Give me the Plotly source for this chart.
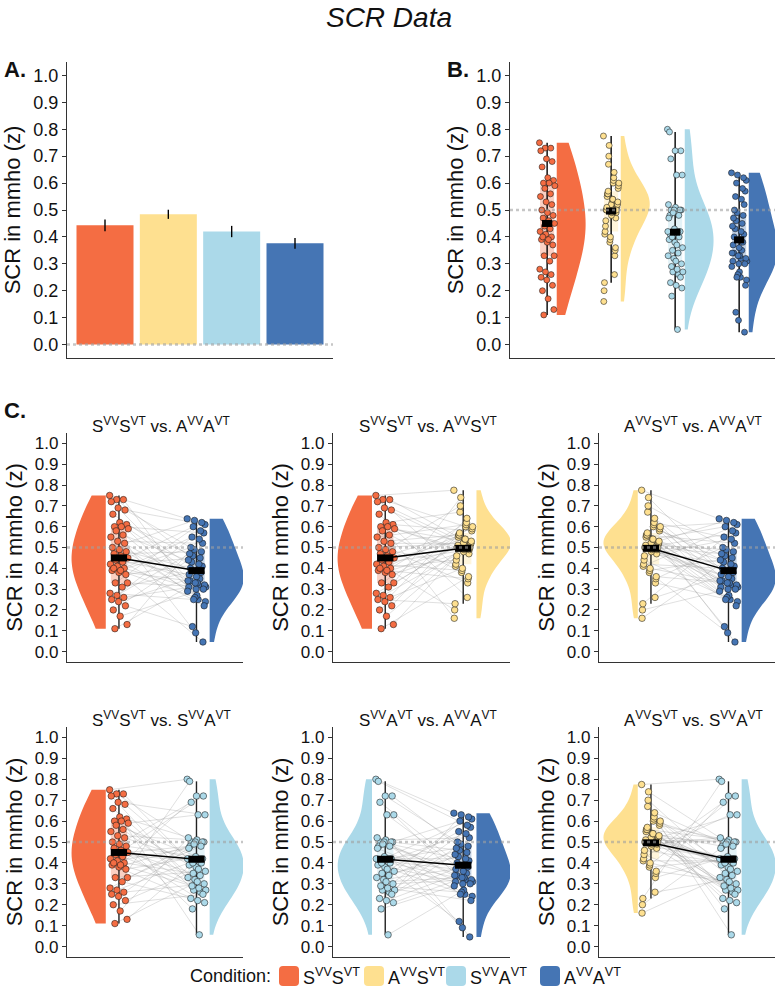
import numpy as np
import plotly.graph_objects as go

W, H = 778, 999
FONT = "Liberation Sans, Arial, sans-serif"

# ---------------- data ----------------
CONDITIONS = ["S<sup>VV</sup>S<sup>VT</sup>", "A<sup>VV</sup>S<sup>VT</sup>",
              "S<sup>VV</sup>A<sup>VT</sup>", "A<sup>VV</sup>A<sup>VT</sup>"]
COLORS = ["#F46D43", "#FEE090", "#ABD9E9", "#4575B4"]

# Panel A: condition means and standard errors
BAR_MEANS = [0.443, 0.484, 0.420, 0.376]
BAR_SE = [0.022, 0.017, 0.021, 0.020]

# per-subject SCR values (z), same subject order in every list
SVV_SVT = [0.75, 0.73, 0.73, 0.72, 0.69, 0.68, 0.66, 0.62, 0.61, 0.60, 0.60, 0.59,
           0.58, 0.56, 0.55, 0.53, 0.52, 0.50, 0.49, 0.48, 0.47, 0.46, 0.45, 0.44,
           0.43, 0.42, 0.41, 0.40, 0.39, 0.38, 0.37, 0.40, 0.39, 0.33, 0.33, 0.31,
           0.28, 0.27, 0.26, 0.25, 0.24, 0.22, 0.20, 0.17, 0.13, 0.11]
AVV_SVT = [0.775, 0.60, 0.55, 0.51, 0.51, 0.41, 0.26, 0.67, 0.58, 0.53, 0.50, 0.47,
           0.38, 0.16, 0.61, 0.56, 0.52, 0.52, 0.42, 0.33, 0.70, 0.59, 0.54, 0.50,
           0.49, 0.39, 0.20, 0.62, 0.56, 0.52, 0.48, 0.44, 0.35, 0.74, 0.60, 0.54,
           0.51, 0.50, 0.40, 0.23, 0.64, 0.57, 0.53, 0.49, 0.46, 0.36]
SVV_AVT = [0.80, 0.50, 0.38, 0.26, 0.63, 0.41, 0.32, 0.056, 0.50, 0.39, 0.27, 0.63,
           0.42, 0.33, 0.18, 0.51, 0.40, 0.27, 0.69, 0.43, 0.34, 0.21, 0.48, 0.41,
           0.28, 0.72, 0.47, 0.35, 0.22, 0.50, 0.42, 0.29, 0.72, 0.48, 0.36, 0.23,
           0.50, 0.42, 0.30, 0.79, 0.49, 0.37, 0.25, 0.52, 0.40, 0.31]
AVV_AVT = [0.638, 0.41, 0.25, 0.49, 0.34, 0.61, 0.38, 0.27, 0.46, 0.31, 0.57, 0.35,
           0.09, 0.43, 0.29, 0.52, 0.32, 0.63, 0.40, 0.24, 0.48, 0.33, 0.60, 0.37,
           0.22, 0.45, 0.30, 0.55, 0.34, 0.046, 0.42, 0.26, 0.50, 0.31, 0.62, 0.39,
           0.25, 0.47, 0.32, 0.58, 0.36, 0.12, 0.44, 0.30, 0.54, 0.33]
DATA = [SVV_SVT, AVV_SVT, SVV_AVT, AVV_AVT]

Y_TICKS = [0.0, 0.1, 0.2, 0.3, 0.4, 0.5, 0.6, 0.7, 0.8, 0.9, 1.0]
PAIRS = [(0, 3), (0, 1), (1, 3), (0, 2), (2, 3), (1, 2)]
Y_TITLE = "SCR in mmho (z)"


# ---------------- helpers ----------------
def px_x(p):
    return p / W


def px_y(p):
    return 1 - p / H


def pale(hexc, a=0.32):
    r, g, b = int(hexc[1:3], 16), int(hexc[3:5], 16), int(hexc[5:7], 16)
    r, g, b = [int(round(c * a + 255 * (1 - a))) for c in (r, g, b)]
    return f"rgb({r},{g},{b})"


def kde_bw(v):
    v = np.asarray(v, float)
    q1, q3 = np.percentile(v, [25, 75])
    s = min(v.std(ddof=1), (q3 - q1) / 1.34)
    return 1.5 * 0.9 * s * len(v) ** (-0.2)


def whiskers(v):
    v = np.asarray(v, float)
    q1, q3 = np.percentile(v, [25, 75])
    iqr = q3 - q1
    lo = v[v >= q1 - 1.5 * iqr].min()
    hi = v[v <= q3 + 1.5 * iqr].max()
    return lo, hi


JIT_MULT = [17, 29, 11, 37]


def jitter(n, c, spread):
    m = JIT_MULT[c]
    return np.array([(((i * m) % 47) / 46 - 0.5) * spread for i in range(n)])


traces = []
shapes = []
annotations = []
_vcount = [0]


def add_violin(c, pos, side, xa, ya, vio_off, vio_half):
    vals = np.asarray(DATA[c], float)
    col = COLORS[c]
    sgn = 1 if side == "positive" else -1
    _vcount[0] += 1
    traces.append(go.Violin(
        y=vals, x0=pos + sgn * vio_off, side=side, width=2 * vio_half,
        fillcolor=col, line=dict(width=0, color=col), points=False,
        spanmode="hard", bandwidth=kde_bw(vals), scalemode="width",
        scalegroup=f"sg{_vcount[0]}", name=f"v{_vcount[0]}",
        hoverinfo="skip", showlegend=False, xaxis=xa, yaxis=ya, opacity=1))


def add_core(c, pos, xa, ya, box_w, jit_spread, msize, wcolor, jit=None):
    vals = np.asarray(DATA[c], float)
    col = COLORS[c]
    lo, hi = whiskers(vals)
    traces.append(go.Scatter(x=[pos, pos], y=[lo, hi], mode="lines",
                             line=dict(color=wcolor, width=1.4), hoverinfo="skip",
                             showlegend=False, xaxis=xa, yaxis=ya))
    traces.append(go.Box(y=vals, x0=pos, width=box_w, fillcolor=pale(col),
                         line=dict(width=0, color=pale(col)), boxpoints=False,
                         whiskerwidth=0, hoverinfo="skip", showlegend=False,
                         xaxis=xa, yaxis=ya))
    if jit is None:
        jit = jitter(len(vals), c, jit_spread)
    traces.append(go.Scatter(x=pos + jit, y=vals, mode="markers",
                             marker=dict(size=msize, color=col,
                                         line=dict(color="rgba(20,20,20,0.9)", width=0.6)),
                             hoverinfo="skip", showlegend=False, xaxis=xa, yaxis=ya))
    return vals.mean()


def mean_bar(pos, m, w, xa, ya):
    traces.append(go.Scatter(x=[pos - w / 2, pos + w / 2], y=[m, m], mode="lines",
                             line=dict(color="black", width=7), hoverinfo="skip",
                             showlegend=False, xaxis=xa, yaxis=ya))


def dotted(xa, ya, yv):
    xref = "x domain" if xa == "x" else f"{xa} domain"
    shapes.append(dict(type="line", xref=xref, x0=0, x1=1, yref=ya, y0=yv, y1=yv,
                       line=dict(color="rgba(160,160,160,0.6)", width=2.5, dash="dot"),
                       layer="above"))


# ---------------- Panel A ----------------
traces.append(go.Bar(x=[1, 2, 3, 4], y=BAR_MEANS, width=0.9, marker=dict(color=COLORS, line=dict(width=0)),
                     error_y=dict(type="data", array=BAR_SE, color="black", thickness=1.4, width=0),
                     hoverinfo="skip", showlegend=False, xaxis="x", yaxis="y"))
dotted("x", "y", 0)

# ---------------- Panel B ----------------
for c in range(4):
    add_violin(c, c + 1, "positive", "x2", "y2", 0.15, 0.45)
for c in range(4):
    pos = c + 1
    m = add_core(c, pos, "x2", "y2", 0.22, 0.24, 6, "black")
    mean_bar(pos, m, 0.16, "x2", "y2")
dotted("x2", "y2", 0.5)

# ---------------- Panel C ----------------
for k, (a, b) in enumerate(PAIRS):
    xa, ya = f"x{k + 3}", f"y{k + 3}"
    add_violin(a, 1, "negative", xa, ya, 0.17, 0.44)
    add_violin(b, 2, "positive", xa, ya, 0.17, 0.44)
    va, vb = np.asarray(DATA[a]), np.asarray(DATA[b])
    ja, jb = jitter(len(va), a, 0.24), jitter(len(vb), b, 0.24)
    lx, ly = [], []
    for i in range(len(va)):
        lx += [1 + ja[i], 2 + jb[i], None]
        ly += [va[i], vb[i], None]
    traces.append(go.Scatter(x=lx, y=ly, mode="lines",
                             line=dict(color="rgba(140,140,140,0.45)", width=0.6),
                             hoverinfo="skip", showlegend=False, xaxis=xa, yaxis=ya))
    ma = add_core(a, 1, xa, ya, 0.21, 0.24, 6.5, "#222", ja)
    mb = add_core(b, 2, xa, ya, 0.21, 0.24, 6.5, "#222", jb)
    traces.append(go.Scatter(x=[1, 2], y=[ma, mb], mode="lines",
                             line=dict(color="black", width=1.5), hoverinfo="skip",
                             showlegend=False, xaxis=xa, yaxis=ya))
    mean_bar(1, ma, 0.21, xa, ya)
    mean_bar(2, mb, 0.21, xa, ya)
    dotted(xa, ya, 0.5)

fig = go.Figure(data=traces)

# ---------------- axes ----------------
AX_COLOR = "#333333"


def yaxis_cfg(top, bottom, xa, tick_size, title_size=22, standoff=6):
    return dict(domain=[px_y(bottom), px_y(top)], anchor=xa, range=[-0.05, 1.05],
                tickvals=Y_TICKS, ticktext=[f"{v:.1f}" for v in Y_TICKS],
                showline=True, linecolor=AX_COLOR, linewidth=1.3, ticks="outside",
                ticklen=4, tickwidth=1.3, tickcolor=AX_COLOR, showgrid=False,
                zeroline=False, tickfont=dict(size=tick_size, color="#111", family=FONT),
                title=dict(text=Y_TITLE, font=dict(size=title_size, color="#111", family=FONT),
                           standoff=standoff))


def xaxis_cfg(left, right, ya, rng):
    return dict(domain=[px_x(left), px_x(right)], anchor=ya, range=rng, type="linear",
                showline=True, linecolor=AX_COLOR, linewidth=1.3, ticks="",
                showticklabels=False, showgrid=False, zeroline=False)


layout = dict(
    width=W, height=H, margin=dict(l=0, r=0, t=0, b=0),
    plot_bgcolor="white", paper_bgcolor="white", showlegend=False,
    violinmode="overlay", boxmode="overlay",
    font=dict(family=FONT, color="#111"),
    title=dict(text="<i>SCR Data</i>", x=0.5, xanchor="center", y=px_y(17), yanchor="middle",
               font=dict(size=28, family=FONT, color="#111")),
)
layout["xaxis"] = xaxis_cfg(67, 333, "y", [0.4, 4.6])
layout["yaxis"] = yaxis_cfg(62, 358, "x", 18)
layout["xaxis2"] = xaxis_cfg(510, 775, "y2", [0.42, 4.56])
layout["yaxis2"] = yaxis_cfg(62, 358, "x2", 18)

COLS = [(67, 243), (333, 510), (599, 775)]
ROWS = [(433, 662), (727, 957)]
for k, (a, b) in enumerate(PAIRS):
    r, cidx = divmod(k, 3)
    n = k + 3
    layout[f"xaxis{n}"] = xaxis_cfg(COLS[cidx][0], COLS[cidx][1], f"y{n}", [0.33, 2.6])
    layout[f"yaxis{n}"] = yaxis_cfg(ROWS[r][0], ROWS[r][1], f"x{n}", 17)
    cx = (COLS[cidx][0] + COLS[cidx][1]) / 2 + 6
    annotations.append(dict(text=f"{CONDITIONS[a]} vs. {CONDITIONS[b]}", x=px_x(cx),
                            y=px_y(ROWS[r][0] + 5), xref="paper", yref="paper",
                            xanchor="center", yanchor="bottom", showarrow=False,
                            font=dict(size=17, family=FONT, color="#111")))

# panel letters
for txt, x, y in [("A.", 2, 70), ("B.", 445, 70), ("C.", 2, 410)]:
    annotations.append(dict(text=f"<b>{txt}</b>", x=px_x(x), y=px_y(y), xref="paper", yref="paper",
                            xanchor="left", yanchor="middle", showarrow=False,
                            font=dict(size=22, family=FONT, color="#111")))

# legend (custom, bottom)
LEG_Y = 976
annotations.append(dict(text="Condition:", x=px_x(188), y=px_y(LEG_Y), xref="paper", yref="paper",
                        xanchor="left", yanchor="middle", showarrow=False,
                        font=dict(size=18, family=FONT, color="#111")))
LEG_BOX_X = [279, 364, 446, 540]
for c in range(4):
    x0, x1 = LEG_BOX_X[c], LEG_BOX_X[c] + 20
    y0, y1 = LEG_Y - 10, LEG_Y + 10
    rr = 4
    X0, X1 = px_x(x0), px_x(x1)
    Y0, Y1 = px_y(y1), px_y(y0)
    rx, ry = rr / W, rr / H
    path = (f"M{X0 + rx},{Y0} L{X1 - rx},{Y0} Q{X1},{Y0} {X1},{Y0 + ry} "
            f"L{X1},{Y1 - ry} Q{X1},{Y1} {X1 - rx},{Y1} L{X0 + rx},{Y1} "
            f"Q{X0},{Y1} {X0},{Y1 - ry} L{X0},{Y0 + ry} Q{X0},{Y0} {X0 + rx},{Y0} Z")
    shapes.append(dict(type="path", path=path, xref="paper", yref="paper",
                       fillcolor=COLORS[c], line=dict(width=0)))
    annotations.append(dict(text=CONDITIONS[c], x=px_x(x1 + 2), y=px_y(LEG_Y), xref="paper",
                            yref="paper", xanchor="left", yanchor="middle", showarrow=False,
                            font=dict(size=18, family=FONT, color="#111")))

layout["shapes"] = shapes
layout["annotations"] = annotations
fig.update_layout(**layout)
fig.write_html("out.html", config={"displayModeBar": False},
               post_script="document.body.style.margin='0';document.body.style.overflow='hidden';")
